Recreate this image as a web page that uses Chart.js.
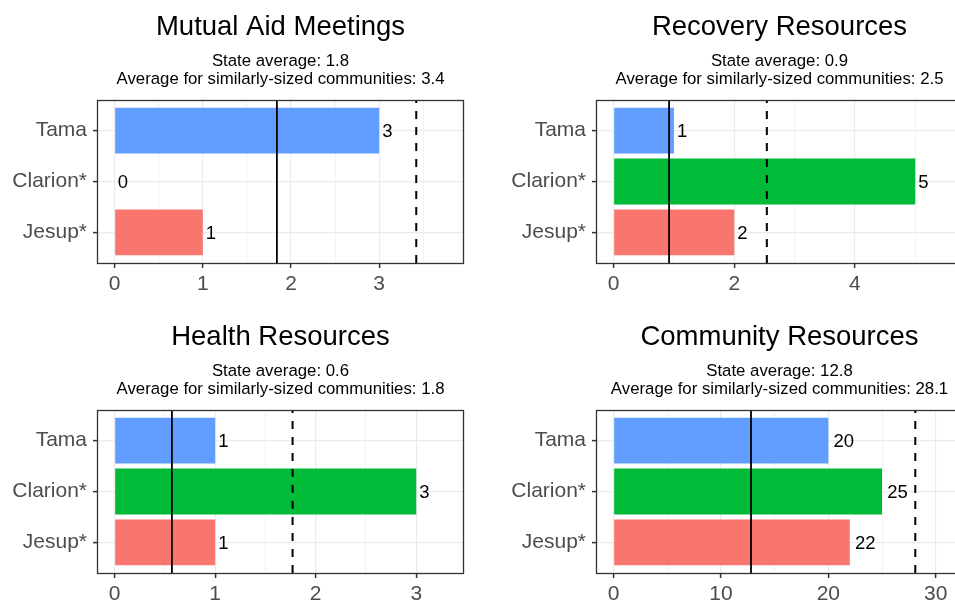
<!DOCTYPE html>
<html><head><meta charset="utf-8">
<script src="https://cdn.jsdelivr.net/npm/chart.js@4/dist/chart.umd.min.js"></script>
<style>
html,body{margin:0;padding:0;background:#fff;overflow:hidden;width:955px;height:601px;position:relative;}
.p{position:absolute;}
</style></head><body>
<div class="p" style="left:0;top:0;"><canvas id="c0" width="477" height="291"></canvas></div>
<div class="p" style="left:499px;top:0;"><canvas id="c1" width="477" height="291"></canvas></div>
<div class="p" style="left:0;top:310px;"><canvas id="c2" width="477" height="291"></canvas></div>
<div class="p" style="left:499px;top:310px;"><canvas id="c3" width="477" height="291"></canvas></div>
<script>
// ---- data ----
const categories = ["Tama", "Clarion*", "Jesup*"];
const panelTitles = ["Mutual Aid Meetings", "Recovery Resources", "Health Resources", "Community Resources"];
const mutualAid = [3, 0, 1];
const recovery = [1, 5, 2];
const health = [1, 3, 1];
const community = [20, 25, 22];
const stateAverage = [1.84, 0.92, 0.57, 12.8];
const similarAverage = [3.42, 2.54, 1.77, 28.1];

// ---- axis settings ----
const xRanges = [[-0.188, 3.95], [-0.275, 5.775], [-0.165, 3.465], [-1.545, 32.45]];
const xSteps = [1, 2, 1, 10];
const barColors = ["#619CFF", "#00BA38", "#F8766D"];
const FONT = "'Liberation Sans', Arial, sans-serif";

function makeChart(id, i, values) {
  const xmin = xRanges[i][0], xmax = xRanges[i][1], step = xSteps[i];
  const isMajor = v => Math.abs(v / step - Math.round(v / step)) < 1e-6;
  const decor = {
    id: 'decor' + i,
    afterDatasetsDraw(chart) {
      const ctx = chart.ctx, a = chart.chartArea, xs = chart.scales.x;
      ctx.save();
      // reference lines
      ctx.strokeStyle = '#000';
      ctx.lineWidth = 1.8;
      ctx.setLineDash([]);
      let px = xs.getPixelForValue(stateAverage[i]);
      ctx.beginPath(); ctx.moveTo(px, a.top); ctx.lineTo(px, a.bottom); ctx.stroke();
      ctx.lineWidth = 2;
      ctx.setLineDash([8, 8]);
      px = xs.getPixelForValue(similarAverage[i]);
      ctx.beginPath(); ctx.moveTo(px, a.bottom); ctx.lineTo(px, a.top); ctx.stroke();
      ctx.setLineDash([]);
      // value labels
      ctx.fillStyle = '#000';
      ctx.font = '18.5px ' + FONT;
      ctx.textBaseline = 'middle';
      ctx.textAlign = 'left';
      const meta = chart.getDatasetMeta(0);
      meta.data.forEach((bar, k) => {
        const txt = String(values[k]);
        const w = ctx.measureText(txt).width;
        ctx.fillText(txt, bar.x + 0.2 * w + 1, bar.y + 1);
      });
      // panel border
      ctx.strokeStyle = '#333333';
      ctx.lineWidth = 1.3;
      ctx.strokeRect(Math.round(a.left) - 0.5, Math.round(a.top) + 0.5, Math.round(a.right - a.left) + 1, Math.round(a.bottom - a.top));
      ctx.restore();
    },
    afterDraw(chart) {
      const ctx = chart.ctx, a = chart.chartArea;
      const cx = (a.left + a.right) / 2;
      ctx.save();
      ctx.fillStyle = '#000';
      ctx.textAlign = 'center';
      ctx.textBaseline = 'alphabetic';
      ctx.font = '27.5px ' + FONT;
      ctx.fillText(panelTitles[i], cx, a.top - 65);
      ctx.font = '16.8px ' + FONT;
      ctx.fillText('State average: ' + stateAverage[i].toFixed(1), cx, a.top - 34.3);
      ctx.fillText('Average for similarly-sized communities: ' + similarAverage[i].toFixed(1), cx, a.top - 16);
      ctx.restore();
    }
  };
  return new Chart(document.getElementById(id), {
    type: 'bar',
    data: {
      datasets: [{
        data: values.map((v, k) => ({ x: v, y: k })),
        backgroundColor: barColors,
        borderWidth: 0,
        barPercentage: 0.9,
        categoryPercentage: 1.0
      }]
    },
    options: {
      indexAxis: 'y',
      responsive: false,
      animation: false,
      devicePixelRatio: 1,
      layout: { padding: { top: 100, right: 14, bottom: 0, left: 0 } },
      plugins: { legend: { display: false }, tooltip: { enabled: false }, title: { display: false } },
      scales: {
        x: {
          type: 'linear', min: xmin, max: xmax, offset: false,
          afterBuildTicks(s) {
            const t = [];
            for (let k = 0; k * step / 2 <= xmax + 1e-9; k++) t.push({ value: +(k * step / 2).toFixed(6) });
            s.ticks = t;
          },
          afterFit(s) { s.height = 28; },
          border: { display: false },
          grid: {
            offset: false,
            color: ctx => isMajor(ctx.tick.value) ? '#EBEBEB' : '#F2F2F2',
            lineWidth: ctx => isMajor(ctx.tick.value) ? 1.2 : 1,
            tickLength: 5,
            tickColor: ctx => isMajor(ctx.tick.value) ? '#333333' : 'rgba(0,0,0,0)',
            tickWidth: 1.5
          },
          ticks: {
            autoSkip: false, maxRotation: 0, padding: 4,
            color: '#4D4D4D', font: { family: FONT, size: 21 },
            callback: v => isMajor(v) ? String(Math.round(v)) : ''
          }
        },
        y: {
          type: 'linear', min: -0.6, max: 2.6, reverse: true, offset: false,
          afterBuildTicks(s) { s.ticks = categories.map((c, k) => ({ value: k })); },
          afterFit(s) { s.width = 98; },
          border: { display: false },
          grid: { offset: false, color: '#EBEBEB', lineWidth: 1.2, tickLength: 5, tickColor: '#333333', tickWidth: 1.5 },
          ticks: {
            autoSkip: false, padding: 6,
            color: '#4D4D4D', font: { family: FONT, size: 21 },
            callback: v => categories[v]
          }
        }
      }
    },
    plugins: [decor]
  });
}

makeChart('c0', 0, mutualAid);
makeChart('c1', 1, recovery);
makeChart('c2', 2, health);
makeChart('c3', 3, community);
</script>
</body></html>
